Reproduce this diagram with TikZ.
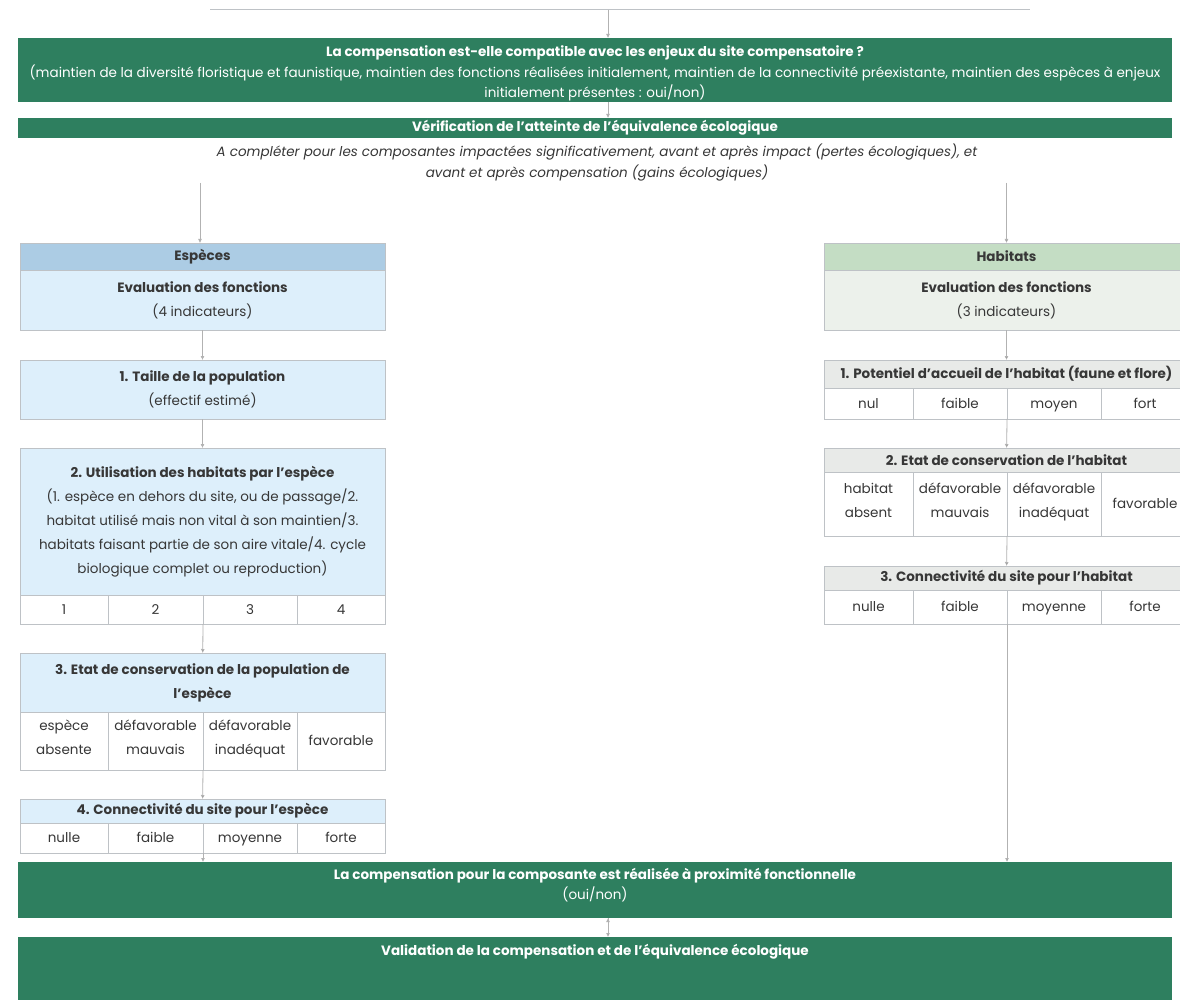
\documentclass[tikz,border=0pt]{standalone}
\usepackage{fontspec}
\setmainfont{Poppins}
\usetikzlibrary{positioning,arrows.meta}
\definecolor{cgreen}{RGB}{46,127,95}
\definecolor{cdark}{RGB}{55,55,55}
\definecolor{cline}{RGB}{190,194,198}
\definecolor{carrow}{RGB}{178,178,178}
\definecolor{cblueh}{RGB}{172,204,228}
\definecolor{cblue}{RGB}{221,239,251}
\definecolor{cgreenh}{RGB}{196,221,196}
\definecolor{cgreenb}{RGB}{236,241,235}
\definecolor{cgray}{RGB}{232,234,232}

\begin{document}
\begin{tikzpicture}[x=1pt,y=-1pt,node distance=29pt,
  every node/.style={outer sep=0pt,inner ysep=0pt,inner xsep=2pt,text=cdark,font=\fontsize{13.5}{24}\selectfont},
  gbox/.style={fill=cgreen,text=white,minimum width=1154pt,align=center,font=\fontsize{13.5}{20.5}\selectfont},
  ebox/.style={draw=cline,fill=cblue,minimum width=365pt,align=center},
  hbox/.style={draw=cline,fill=cgray,minimum width=365pt,align=center},
  cell/.style={draw=cline,fill=white,align=center,execute at begin node=\strut,execute at end node=\strut},
  link/.style={draw=carrow,line width=0.8pt,-{Latex[length=4pt,width=4pt]}}]
\clip (0,0) rectangle (1180,1000);
\fill[white] (0,0) rectangle (1180,1000);
\draw[cline,line width=1pt] (210,10) -- (1030,10);
\coordinate (t0) at (608,10);
\coordinate (cl) at (200,183);
\coordinate (cr) at (1006.5,183);

% green steps
\node[gbox,minimum height=64pt,anchor=north west] (g1) at (18,38) {\rule{0pt}{18pt}\textbf{La compensation est-elle compatible avec les enjeux du site compensatoire~?}\\(maintien de la diversité floristique et faunistique, maintien des fonctions réalisées initialement, maintien de la connectivité préexistante, maintien des espèces à enjeux\\initialement présentes : oui/non)};
\node[gbox,minimum height=20pt,below=16pt of g1] (g2) {\textbf{Vérification de l'atteinte de l'équivalence écologique}};
\node[font=\fontsize{13.5}{21}\selectfont\itshape,align=center] (note) at (597,163) {A compléter pour les composantes impactées significativement, avant et après impact (pertes écologiques), et\\avant et après compensation (gains écologiques)};

% especes
\node[ebox,fill=cblueh,minimum height=27pt,anchor=north west] (esp) at (20,243) {\textbf{Espèces}};
\node[ebox,minimum height=60pt,below=0pt of esp] (espb) {\textbf{Evaluation des fonctions}\\(4 indicateurs)};
\node[ebox,minimum height=59pt,below=30pt of espb] (e1) {\textbf{1. Taille de la population}\\(effectif estimé)};
\node[ebox,minimum height=147pt,below=29pt of e1] (e2) {\textbf{2. Utilisation des habitats par l'espèce}\\(1. espèce en dehors du site, ou de passage/2.\\habitat utilisé mais non vital à son maintien/3.\\habitats faisant partie de son aire vitale/4. cycle\\biologique complet ou reproduction)};
\node[cell,minimum width=88pt,minimum height=29pt,anchor=north west] (e2a) at (e2.south west) {1};
\node[cell,minimum width=95pt,minimum height=29pt,right=0pt of e2a] (e2b) {2};
\node[cell,minimum width=94pt,minimum height=29pt,right=0pt of e2b] (e2c) {3};
\node[cell,minimum width=88pt,minimum height=29pt,right=0pt of e2c] (e2d) {4};
\node[ebox,minimum height=59pt,below=29pt of e2a.south west,anchor=north west] (e3) {\textbf{3. Etat de conservation de la population de}\\\textbf{l'espèce}};
\node[cell,minimum width=88pt,minimum height=58pt,anchor=north west] (e3a) at (e3.south west) {espèce\\absente};
\node[cell,minimum width=95pt,minimum height=58pt,right=0pt of e3a] (e3b) {défavorable\\mauvais};
\node[cell,minimum width=94pt,minimum height=58pt,right=0pt of e3b] (e3c) {défavorable\\inadéquat};
\node[cell,minimum width=88pt,minimum height=58pt,right=0pt of e3c] (e3d) {favorable};
\node[ebox,minimum height=24pt,below=29pt of e3a.south west,anchor=north west] (e4) {\textbf{4. Connectivité du site pour l'espèce}};
\node[cell,minimum width=88pt,minimum height=30pt,anchor=north west] (e4a) at (e4.south west) {nulle};
\node[cell,minimum width=95pt,minimum height=30pt,right=0pt of e4a] (e4b) {faible};
\node[cell,minimum width=94pt,minimum height=30pt,right=0pt of e4b] (e4c) {moyenne};
\node[cell,minimum width=88pt,minimum height=30pt,right=0pt of e4c] (e4d) {forte};

% habitats
\node[hbox,fill=cgreenh,minimum height=27pt,anchor=north west] (hab) at (824,243) {\textbf{Habitats}};
\node[hbox,fill=cgreenb,minimum height=60pt,below=0pt of hab] (habb) {\textbf{Evaluation des fonctions}\\(3 indicateurs)};
\node[hbox,minimum height=28pt,below=30pt of habb] (h1) {\textbf{1. Potentiel d'accueil de l'habitat (faune et flore)}};
\node[cell,minimum width=89pt,minimum height=31pt,anchor=north west] (h1a) at (h1.south west) {nul};
\node[cell,minimum width=94pt,minimum height=31pt,right=0pt of h1a] (h1b) {faible};
\node[cell,minimum width=94pt,minimum height=31pt,right=0pt of h1b] (h1c) {moyen};
\node[cell,minimum width=88pt,minimum height=31pt,right=0pt of h1c] (h1d) {fort};
\node[hbox,minimum height=24pt,below=29pt of h1a.south west,anchor=north west] (h2) {\textbf{2. Etat de conservation de l'habitat}};
\node[cell,minimum width=89pt,minimum height=64pt,anchor=north west] (h2a) at (h2.south west) {habitat\\absent};
\node[cell,minimum width=94pt,minimum height=64pt,right=0pt of h2a] (h2b) {défavorable\\mauvais};
\node[cell,minimum width=94pt,minimum height=64pt,right=0pt of h2b] (h2c) {défavorable\\inadéquat};
\node[cell,minimum width=88pt,minimum height=64pt,right=0pt of h2c] (h2d) {favorable};
\node[hbox,minimum height=24pt,below=30pt of h2a.south west,anchor=north west] (h3) {\textbf{3. Connectivité du site pour l'habitat}};
\node[cell,minimum width=89pt,minimum height=34pt,anchor=north west] (h3a) at (h3.south west) {nulle};
\node[cell,minimum width=94pt,minimum height=34pt,right=0pt of h3a] (h3b) {faible};
\node[cell,minimum width=94pt,minimum height=34pt,right=0pt of h3b] (h3c) {moyenne};
\node[cell,minimum width=88pt,minimum height=34pt,right=0pt of h3c] (h3d) {forte};

% closing steps
\node[gbox,minimum height=56pt,anchor=north west] (g3) at (18,862) {\textbf{La compensation pour la composante est réalisée à proximité fonctionnelle}\\(oui/non)\rule[-12pt]{0pt}{0pt}};
\node[gbox,text height=18pt,text depth=50pt,below=19pt of g3] (g4) {\textbf{Validation de la compensation et de l'équivalence écologique}};

\path[link]
(t0) edge (t0 |- g1.north)
(g1.south -| t0) edge (g2.north -| t0)
(cl) edge (cl |- esp.north)
(cr) edge (hab)
(espb) edge (e1)
(e1) edge (e2)
(e2b.south east) edge (e3)
(e3b.south east) edge (e4)
(e4b.south east) edge (e4b.south east |- g3.north)
(habb) edge (h1)
(h1b.south east) edge (h2)
(h2b.south east) edge (h3)
(h3b.south east) edge (h3b.south east |- g3.north)
(g3.south -| t0) edge (g4.north -| t0)
;
\end{tikzpicture}
\end{document}
